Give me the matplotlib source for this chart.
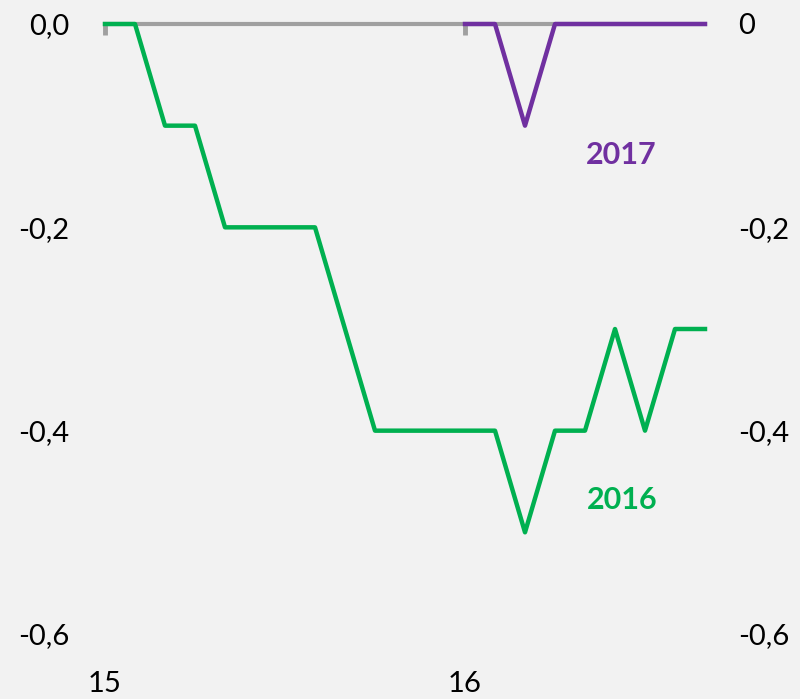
import matplotlib.pyplot as plt

# data (index steps, 12 per label period)
x_2016 = list(range(0, 21))
y_2016 = [0.0, 0.0, -0.1, -0.1, -0.2, -0.2, -0.2, -0.2, -0.3, -0.4, -0.4,
          -0.4, -0.4, -0.4, -0.5, -0.4, -0.4, -0.3, -0.4, -0.3, -0.3]
x_2017 = list(range(12, 21))
y_2017 = [0.0, 0.0, -0.1, 0.0, 0.0, 0.0, 0.0, 0.0, 0.0]
xtick_pos = [0, 12]
xtick_labels = ['15', '16']
yticks = [0.0, -0.2, -0.4, -0.6]
left_labels = ['0,0', '-0,2', '-0,4', '-0,6']
right_labels = ['0', '-0,2', '-0,4', '-0,6']

green = '#00b050'
purple = '#7030a0'
grey = '#a0a0a0'
bg = '#f2f2f2'

plt.rcParams['font.family'] = ['Lato', 'DejaVu Sans']

fig = plt.figure(figsize=(8, 6.99), dpi=100, facecolor=bg)
ax = fig.add_axes([105 / 800, 65 / 699, 600 / 800, 610 / 699])
ax.set_facecolor(bg)

ax.plot(x_2016, y_2016, color=green, lw=3.2, clip_on=False, zorder=3)
ax.plot(x_2017, y_2017, color=purple, lw=3.2, clip_on=False, zorder=3)

ax.set_xlim(0, 20)
ax.set_ylim(-0.6, 0)

for s in ['left', 'right', 'bottom']:
    ax.spines[s].set_visible(False)
ax.spines['top'].set_color(grey)
ax.spines['top'].set_linewidth(3)
ax.spines['top'].set_zorder(2)

# axis line at zero with downward tick marks
ax.xaxis.set_ticks_position('top')
ax.set_xticks(xtick_pos)
ax.tick_params(axis='x', direction='in', length=8, width=3.5, color=grey,
               labeltop=False, labelbottom=False)

ax.set_yticks(yticks)
ax.set_yticklabels(left_labels)
ax.tick_params(axis='y', length=0, pad=26, labelsize=21)

ax2 = ax.twinx()
ax2.set_ylim(-0.6, 0)
ax2.set_yticks(yticks)
ax2.set_yticklabels(right_labels)
ax2.tick_params(axis='y', length=0, pad=24, labelsize=21)
for s in ax2.spines.values():
    s.set_visible(False)

sec = ax.secondary_xaxis(location=0)
sec.set_xticks(xtick_pos)
sec.set_xticklabels(xtick_labels)
sec.tick_params(length=0, pad=27, labelsize=21)
sec.spines['bottom'].set_visible(False)

ax.text(17.2, -0.129, '2017', color=purple, fontsize=22, fontweight='bold',
        ha='center', va='center')
ax.text(17.25, -0.468, '2016', color=green, fontsize=22, fontweight='bold',
        ha='center', va='center')

fig.savefig('out.png', dpi=100, facecolor=bg)
